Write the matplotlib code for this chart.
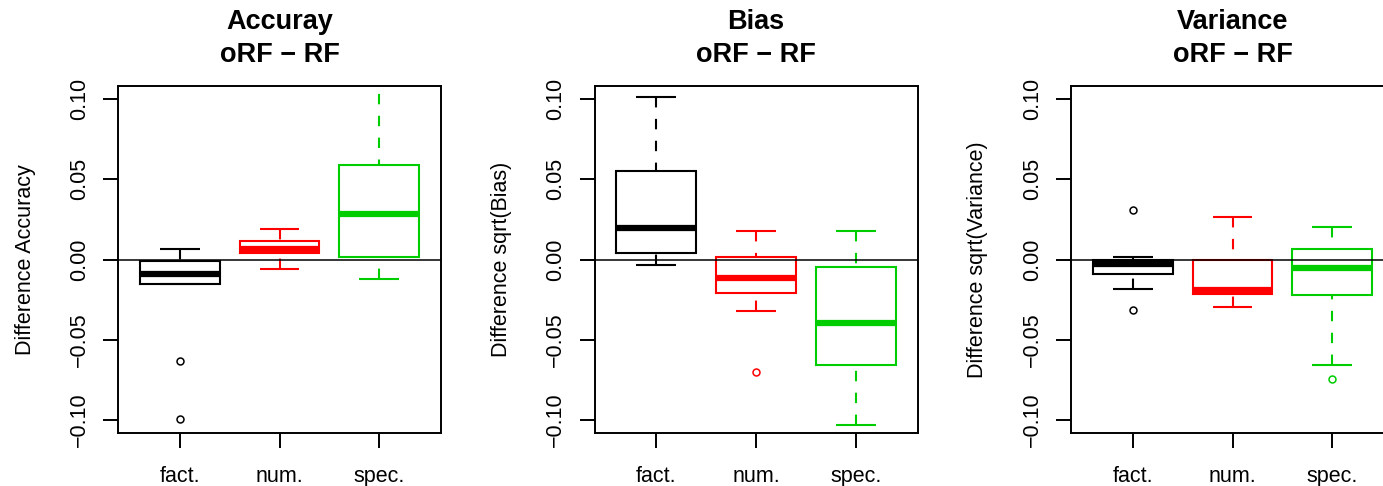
import matplotlib
matplotlib.use("Agg")
import matplotlib.pyplot as plt

plt.rcParams["font.family"] = ["Liberation Sans", "DejaVu Sans"]

# Groups and their colours
categories = ["fact.", "num.", "spec."]
colors = ["black", "#FF0000", "#00CD00"]

titles = ["Accuray\noRF \u2212 RF", "Bias\noRF \u2212 RF", "Variance\noRF \u2212 RF"]
ylabels = ["Difference Accuracy", "Difference sqrt(Bias)", "Difference sqrt(Variance)"]

# Box statistics per group (fact., num., spec.)
acc_whislo = [-0.0152, -0.0059, -0.0121]
acc_q1 = [-0.0152, 0.0038, 0.0013]
acc_med = [-0.0090, 0.0064, 0.0285]
acc_q3 = [-0.0007, 0.0113, 0.0588]
acc_whishi = [0.0065, 0.0190, 0.1170]
acc_out = [[-0.0629, -0.0992], [], []]

bias_whislo = [-0.0032, -0.0320, -0.1028]
bias_q1 = [0.0038, -0.0208, -0.0655]
bias_med = [0.0198, -0.0115, -0.0397]
bias_q3 = [0.0552, 0.0013, -0.0049]
bias_whishi = [0.1012, 0.0179, 0.0179]
bias_out = [[], [-0.0702], []]

var_whislo = [-0.0183, -0.0298, -0.0655]
var_q1 = [-0.0090, -0.0217, -0.0219]
var_med = [-0.0030, -0.0192, -0.0053]
var_q3 = [0.0000, 0.0000, 0.0065]
var_whishi = [0.0015, 0.0266, 0.0204]
var_out = [[0.0308, -0.0314], [], [-0.0741]]

yticks = [-0.10, -0.05, 0.00, 0.05, 0.10]
yticklabels = ["\u22120.10", "\u22120.05", "0.00", "0.05", "0.10"]

panels = [
    (acc_whislo, acc_q1, acc_med, acc_q3, acc_whishi, acc_out),
    (bias_whislo, bias_q1, bias_med, bias_q3, bias_whishi, bias_out),
    (var_whislo, var_q1, var_med, var_q3, var_whishi, var_out),
]

W, H = 1383, 486
fig = plt.figure(figsize=(W / 100, H / 100), dpi=100)
fig.patch.set_facecolor("white")

ax_w, ax_top, ax_bot = 323, 86, 433
lefts = [118, 594.5, 1071]

for i, (lo, q1, med, q3, hi, out) in enumerate(panels):
    ax = fig.add_axes([lefts[i] / W, (H - ax_bot) / H, ax_w / W, (ax_bot - ax_top) / H])
    stats = []
    for k in range(len(categories)):
        stats.append(dict(whislo=lo[k], q1=q1[k], med=med[k], q3=q3[k],
                          whishi=hi[k], fliers=out[k], label=categories[k]))
    art = ax.bxp(stats, positions=[1, 2, 3], widths=0.8, capwidths=0.4,
                 showfliers=True, manage_ticks=False)
    for k, c in enumerate(colors):
        box = art["boxes"][k]
        box.set_color(c)
        box.set_linewidth(1.5)
        box.set_solid_joinstyle("miter")
        m = art["medians"][k]
        m.set_color(c)
        m.set_linewidth(4.5)
        m.set_solid_capstyle("butt")
        for w in art["whiskers"][2 * k:2 * k + 2]:
            w.set_color(c)
            w.set_linewidth(1.5)
            w.set_linestyle((0, (5, 5.5)))
            # dash pattern runs from the whisker end towards the box
            w.set_ydata(w.get_ydata()[::-1])
        for cp in art["caps"][2 * k:2 * k + 2]:
            cp.set_color(c)
            cp.set_linewidth(1.5)
            cp.set_solid_capstyle("butt")
        f = art["fliers"][k]
        f.set_marker("o")
        f.set_markerfacecolor("none")
        f.set_markeredgecolor(c)
        f.set_markersize(5)
        f.set_markeredgewidth(1.1)

    ax.axhline(0, color="black", linewidth=1.1, zorder=5)

    ax.set_xlim(0.38, 3.62)
    ax.set_ylim(-0.108, 0.108)
    ax.set_xticks([1, 2, 3])
    ax.set_xticklabels(categories)
    ax.set_yticks(yticks)
    ax.set_yticklabels(yticklabels, rotation=90, va="center")
    ax.tick_params(axis="both", length=10.8, width=1.4, labelsize=15.5)
    ax.tick_params(axis="y", pad=9.5)
    ax.tick_params(axis="x", pad=13)
    for s in ax.spines.values():
        s.set_linewidth(1.4)

    ax.set_title(titles[i], fontsize=19.5, fontweight="bold", pad=17.5, linespacing=1.35)
    ax.set_ylabel(ylabels[i], fontsize=15.5, va="center")
    ax.yaxis.set_label_coords(-93 / ax_w, 0.5)

fig.savefig("out.png", dpi=100)
